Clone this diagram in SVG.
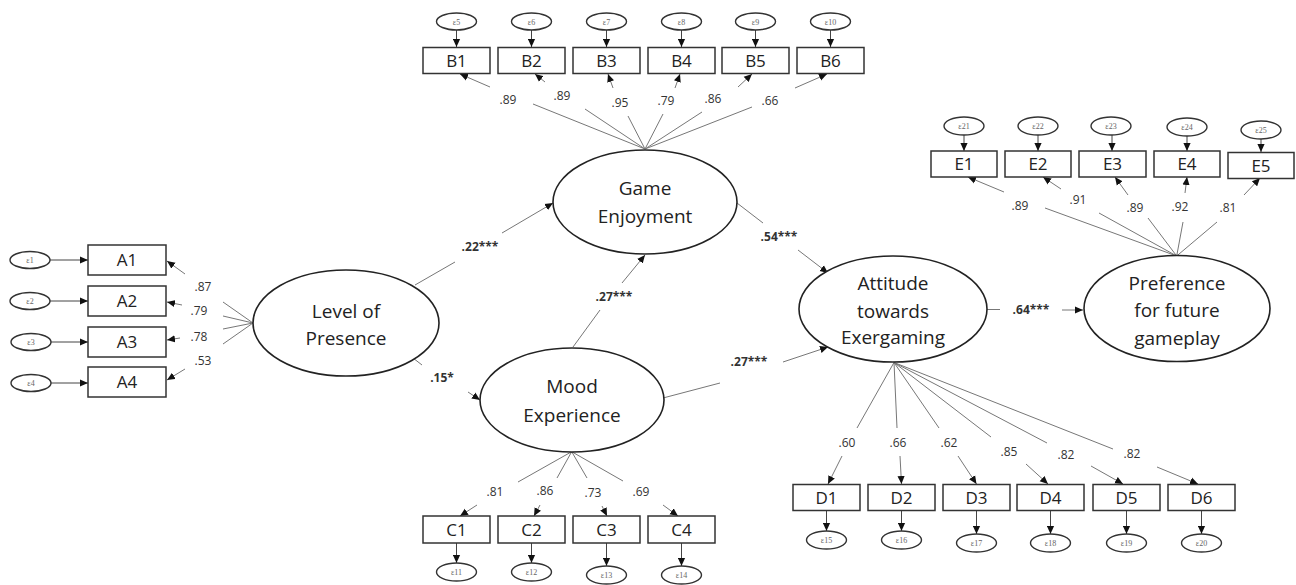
<svg xmlns="http://www.w3.org/2000/svg" width="1296" height="585" viewBox="0 0 1296 585">
<defs>
<marker id="ah" viewBox="0 0 10 10" refX="10" refY="5" markerWidth="8" markerHeight="8" markerUnits="userSpaceOnUse" orient="auto"><path d="M0,0.5 L10,5 L0,9.5 z" fill="#111"/></marker>
</defs>
<style>
.lat{fill:#fff;stroke:#222;stroke-width:1.6}
.box{fill:#fff;stroke:#333;stroke-width:1.5}
.err{fill:#fff;stroke:#333;stroke-width:1.4}
.ln{fill:none;stroke:#777;stroke-width:1;marker-end:url(#ah)}
.ea{fill:none;stroke:#444;stroke-width:1;marker-end:url(#ah)}
.lt{font-family:"Open Sans",sans-serif;font-size:19px;fill:#222;text-anchor:middle}
.bt{font-family:"Open Sans",sans-serif;font-size:17px;fill:#222;text-anchor:middle}
.et{font-family:"Liberation Serif",serif;font-size:8px;fill:#666;text-anchor:middle}
.nl{font-family:"Open Sans",sans-serif;font-size:12px;fill:#333;text-anchor:middle}
.pl{font-family:"Open Sans",sans-serif;font-size:12px;font-weight:bold;fill:#333;text-anchor:middle}
</style>
<rect width="1296" height="585" fill="#fff"/>

<g id="connectors">
<path class="ea" d="M456.5,30 L456.5,47"/>
<path class="ea" d="M531.5,30 L531.5,47"/>
<path class="ea" d="M606.5,30 L606.5,47"/>
<path class="ea" d="M681.5,30 L681.5,47"/>
<path class="ea" d="M755.5,30 L755.5,47"/>
<path class="ea" d="M830.5,30 L830.5,47"/>
<path class="ea" d="M50,260 L88,260"/>
<path class="ea" d="M50,301 L88,301"/>
<path class="ea" d="M51,342 L88,342"/>
<path class="ea" d="M51,383 L88,383"/>
<path class="ea" d="M456.5,543 L456.5,563"/>
<path class="ea" d="M531.5,543 L531.5,563"/>
<path class="ea" d="M606.5,543 L606.5,566"/>
<path class="ea" d="M681.5,543 L681.5,566"/>
<path class="ea" d="M826.5,511 L826.5,531"/>
<path class="ea" d="M901.5,511 L901.5,531"/>
<path class="ea" d="M976.5,511 L976.5,534"/>
<path class="ea" d="M1050.5,511 L1050.5,534"/>
<path class="ea" d="M1126.5,511 L1126.5,534"/>
<path class="ea" d="M1201.5,511 L1201.5,534"/>
<path class="ea" d="M964,135 L964,151"/>
<path class="ea" d="M1038,135 L1038,151"/>
<path class="ea" d="M1112,135 L1112,151"/>
<path class="ea" d="M1187,136 L1187,151"/>
<path class="ea" d="M1261,139 L1261,152"/>
<path class="ln" d="M645,149 L533,104 M490,87 L460,74"/>
<path class="ln" d="M645,149 L585,109 M545,82 L535,74"/>
<path class="ln" d="M645,149 L628,116 M613,88 L608,74"/>
<path class="ln" d="M645,149 L663,114 M675,88 L680,74"/>
<path class="ln" d="M645,149 L702,112 M738,87 L752,74"/>
<path class="ln" d="M645,149 L752,107 M795,88 L827,74"/>
<path class="ln" d="M253,323 L223,302 M185,274 L167,261"/>
<path class="ln" d="M253,323 L223,316 M182,305 L167,302"/>
<path class="ln" d="M253,323 L223,329 M180,338 L167,340"/>
<path class="ln" d="M253,323 L223,344 M185,369 L167,380"/>
<path class="ln" d="M571.7,451.7 L518,482 M477,505 L460,516"/>
<path class="ln" d="M571.7,451.7 L557,478 M540,505 L534,516"/>
<path class="ln" d="M571.7,451.7 L587,478 M602,506 L607,516"/>
<path class="ln" d="M571.7,451.7 L623,481 M663,505 L678,516"/>
<path class="ln" d="M894,362.5 L857,428 M842,456 L828,484"/>
<path class="ln" d="M894,362.5 L897,428 M900,456 L901.5,484"/>
<path class="ln" d="M894,362.5 L939,428 M958,456 L976.5,484"/>
<path class="ln" d="M894,362.5 L991,437 M1026,464 L1048,484"/>
<path class="ln" d="M894,362.5 L1047,443 M1091,466 L1123,484"/>
<path class="ln" d="M894,362.5 L1113,449 M1157,467 L1198,484"/>
<path class="ln" d="M1176.7,256 L1045,208 M1004,192 L968,177"/>
<path class="ln" d="M1176.7,256 L1099,213 M1061,189 L1043,177"/>
<path class="ln" d="M1176.7,256 L1148,218 M1128,195 L1115,177"/>
<path class="ln" d="M1176.7,256 L1183,222 M1185,193 L1187,177"/>
<path class="ln" d="M1176.7,256 L1217,222 M1244,195 L1260,178"/>
<path class="ln" d="M415,285 L455,262 M502,233 L553,203"/>
<path class="ln" d="M413,358 L422,365 M468,392 L480,400"/>
<path class="ln" d="M573,347 L600,310 M622,283 L645,255"/>
<path class="ln" d="M737,203 L763,223 M798,250 L828,273"/>
<path class="ln" d="M663,398 L720,383 M783,362 L828,347"/>
<path class="ln" d="M987,309.5 L1000,309.5 M1062,310 L1083,310"/>
</g>

<g id="labels">
<text class="nl" x="508" y="104">.89</text>
<text class="nl" x="562" y="100">.89</text>
<text class="nl" x="620" y="107">.95</text>
<text class="nl" x="666" y="105">.79</text>
<text class="nl" x="713" y="103">.86</text>
<text class="nl" x="770" y="105">.66</text>
<text class="nl" x="203" y="291">.87</text>
<text class="nl" x="199" y="315">.79</text>
<text class="nl" x="199" y="341">.78</text>
<text class="nl" x="203" y="365">.53</text>
<text class="nl" x="495" y="496">.81</text>
<text class="nl" x="545" y="495">.86</text>
<text class="nl" x="593" y="497">.73</text>
<text class="nl" x="641" y="496">.69</text>
<text class="nl" x="847" y="447">.60</text>
<text class="nl" x="898" y="447">.66</text>
<text class="nl" x="949" y="447">.62</text>
<text class="nl" x="1009" y="456">.85</text>
<text class="nl" x="1066" y="459">.82</text>
<text class="nl" x="1132" y="458">.82</text>
<text class="nl" x="1020" y="210">.89</text>
<text class="nl" x="1078" y="204">.91</text>
<text class="nl" x="1135" y="212">.89</text>
<text class="nl" x="1180" y="211">.92</text>
<text class="nl" x="1228" y="212">.81</text>
<text class="pl" x="480" y="251">.22***</text>
<text class="pl" x="442" y="382">.15*</text>
<text class="pl" x="614" y="301">.27***</text>
<text class="pl" x="779" y="241">.54***</text>
<text class="pl" x="749" y="366">.27***</text>
<text class="pl" x="1031" y="314">.64***</text>
</g>

<g id="LevelOfPresence"><ellipse class="lat" cx="346" cy="323" rx="93" ry="53"/><text class="lt" x="346" y="318">Level of</text><text class="lt" x="346" y="345">Presence</text></g>
<g id="GameEnjoyment"><ellipse class="lat" cx="645" cy="202" rx="92" ry="52"/><text class="lt" x="645" y="195">Game</text><text class="lt" x="645" y="223">Enjoyment</text></g>
<g id="MoodExperience"><ellipse class="lat" cx="572" cy="400" rx="92" ry="52"/><text class="lt" x="572" y="393">Mood</text><text class="lt" x="572" y="422">Experience</text></g>
<g id="Attitude"><ellipse class="lat" cx="893" cy="309" rx="94" ry="53"/><text class="lt" x="893" y="290">Attitude</text><text class="lt" x="893" y="318">towards</text><text class="lt" x="893" y="344">Exergaming</text></g>
<g id="Preference"><ellipse class="lat" cx="1177" cy="308.5" rx="93" ry="53"/><text class="lt" x="1177" y="290">Preference</text><text class="lt" x="1177" y="317">for future</text><text class="lt" x="1177" y="345">gameplay</text></g>

<g id="A1"><rect class="box" x="88" y="245" width="78" height="30"/><text class="bt" x="127" y="266">A1</text></g>
<g id="A2"><rect class="box" x="88" y="286" width="78" height="30"/><text class="bt" x="127" y="307">A2</text></g>
<g id="A3"><rect class="box" x="88" y="327" width="78" height="30"/><text class="bt" x="127" y="348">A3</text></g>
<g id="A4"><rect class="box" x="88" y="367" width="78" height="30"/><text class="bt" x="127" y="388">A4</text></g>
<g id="e1"><ellipse class="err" cx="30" cy="260" rx="20" ry="8.5"/><text class="et" x="30" y="263">ε1</text></g>
<g id="e2"><ellipse class="err" cx="30" cy="301" rx="20" ry="8.5"/><text class="et" x="30" y="304">ε2</text></g>
<g id="e3"><ellipse class="err" cx="31" cy="342" rx="20" ry="8.5"/><text class="et" x="31" y="345">ε3</text></g>
<g id="e4"><ellipse class="err" cx="31" cy="383" rx="20" ry="8.5"/><text class="et" x="31" y="386">ε4</text></g>

<g id="B1"><rect class="box" x="423" y="47.5" width="67" height="26"/><text class="bt" x="456.5" y="66.5">B1</text></g>
<g id="B2"><rect class="box" x="498" y="47.5" width="67" height="26"/><text class="bt" x="531.5" y="66.5">B2</text></g>
<g id="B3"><rect class="box" x="573" y="47.5" width="67" height="26"/><text class="bt" x="606.5" y="66.5">B3</text></g>
<g id="B4"><rect class="box" x="648" y="47.5" width="67" height="26"/><text class="bt" x="681.5" y="66.5">B4</text></g>
<g id="B5"><rect class="box" x="722" y="47.5" width="67" height="26"/><text class="bt" x="755.5" y="66.5">B5</text></g>
<g id="B6"><rect class="box" x="797" y="47.5" width="67" height="26"/><text class="bt" x="830.5" y="66.5">B6</text></g>
<g id="e5"><ellipse class="err" cx="456.5" cy="21.5" rx="20" ry="8.5"/><text class="et" x="456.5" y="24.5">ε5</text></g>
<g id="e6"><ellipse class="err" cx="531.5" cy="21.5" rx="20" ry="8.5"/><text class="et" x="531.5" y="24.5">ε6</text></g>
<g id="e7"><ellipse class="err" cx="606.5" cy="21.5" rx="20" ry="8.5"/><text class="et" x="606.5" y="24.5">ε7</text></g>
<g id="e8"><ellipse class="err" cx="681.5" cy="21.5" rx="20" ry="8.5"/><text class="et" x="681.5" y="24.5">ε8</text></g>
<g id="e9"><ellipse class="err" cx="755.5" cy="21.5" rx="20" ry="8.5"/><text class="et" x="755.5" y="24.5">ε9</text></g>
<g id="e10"><ellipse class="err" cx="830.5" cy="21.5" rx="20" ry="8.5"/><text class="et" x="830.5" y="24.5">ε10</text></g>

<g id="C1"><rect class="box" x="423" y="516" width="67" height="27"/><text class="bt" x="456.5" y="535.5">C1</text></g>
<g id="C2"><rect class="box" x="498" y="516" width="67" height="27"/><text class="bt" x="531.5" y="535.5">C2</text></g>
<g id="C3"><rect class="box" x="573" y="516" width="67" height="27"/><text class="bt" x="606.5" y="535.5">C3</text></g>
<g id="C4"><rect class="box" x="648" y="516" width="67" height="27"/><text class="bt" x="681.5" y="535.5">C4</text></g>
<g id="e11"><ellipse class="err" cx="456.5" cy="572" rx="20" ry="9"/><text class="et" x="456.5" y="575">ε11</text></g>
<g id="e12"><ellipse class="err" cx="531.5" cy="572" rx="20" ry="9"/><text class="et" x="531.5" y="575">ε12</text></g>
<g id="e13"><ellipse class="err" cx="606.5" cy="575" rx="20" ry="9"/><text class="et" x="606.5" y="578">ε13</text></g>
<g id="e14"><ellipse class="err" cx="681.5" cy="575" rx="20" ry="9"/><text class="et" x="681.5" y="578">ε14</text></g>

<g id="D1"><rect class="box" x="793" y="484.5" width="67" height="26"/><text class="bt" x="826.5" y="503.5">D1</text></g>
<g id="D2"><rect class="box" x="868" y="484.5" width="67" height="26"/><text class="bt" x="901.5" y="503.5">D2</text></g>
<g id="D3"><rect class="box" x="943" y="484.5" width="67" height="26"/><text class="bt" x="976.5" y="503.5">D3</text></g>
<g id="D4"><rect class="box" x="1017" y="484.5" width="67" height="26"/><text class="bt" x="1050.5" y="503.5">D4</text></g>
<g id="D5"><rect class="box" x="1093" y="484.5" width="67" height="26"/><text class="bt" x="1126.5" y="503.5">D5</text></g>
<g id="D6"><rect class="box" x="1168" y="484.5" width="67" height="26"/><text class="bt" x="1201.5" y="503.5">D6</text></g>
<g id="e15"><ellipse class="err" cx="826.5" cy="540" rx="20" ry="9"/><text class="et" x="826.5" y="543">ε15</text></g>
<g id="e16"><ellipse class="err" cx="901.5" cy="540" rx="20" ry="9"/><text class="et" x="901.5" y="543">ε16</text></g>
<g id="e17"><ellipse class="err" cx="976.5" cy="543" rx="20" ry="9"/><text class="et" x="976.5" y="546">ε17</text></g>
<g id="e18"><ellipse class="err" cx="1050.5" cy="543" rx="20" ry="9"/><text class="et" x="1050.5" y="546">ε18</text></g>
<g id="e19"><ellipse class="err" cx="1126.5" cy="543" rx="20" ry="9"/><text class="et" x="1126.5" y="546">ε19</text></g>
<g id="e20"><ellipse class="err" cx="1201.5" cy="543" rx="20" ry="9"/><text class="et" x="1201.5" y="546">ε20</text></g>

<g id="E1"><rect class="box" x="931" y="151" width="66" height="26"/><text class="bt" x="964" y="170">E1</text></g>
<g id="E2"><rect class="box" x="1005" y="151" width="66" height="26"/><text class="bt" x="1038" y="170">E2</text></g>
<g id="E3"><rect class="box" x="1079" y="151" width="67" height="26"/><text class="bt" x="1112.5" y="170">E3</text></g>
<g id="E4"><rect class="box" x="1154" y="151" width="66" height="26"/><text class="bt" x="1187" y="170">E4</text></g>
<g id="E5"><rect class="box" x="1228" y="152.5" width="66" height="26"/><text class="bt" x="1261" y="171.5">E5</text></g>
<g id="e21"><ellipse class="err" cx="964" cy="126" rx="20" ry="9"/><text class="et" x="964" y="129">ε21</text></g>
<g id="e22"><ellipse class="err" cx="1038" cy="126" rx="20" ry="9"/><text class="et" x="1038" y="129">ε22</text></g>
<g id="e23"><ellipse class="err" cx="1111" cy="126" rx="20" ry="9"/><text class="et" x="1111" y="129">ε23</text></g>
<g id="e24"><ellipse class="err" cx="1187" cy="127" rx="20" ry="9"/><text class="et" x="1187" y="130">ε24</text></g>
<g id="e25"><ellipse class="err" cx="1261" cy="130" rx="20" ry="9"/><text class="et" x="1261" y="133">ε25</text></g>
</svg>
